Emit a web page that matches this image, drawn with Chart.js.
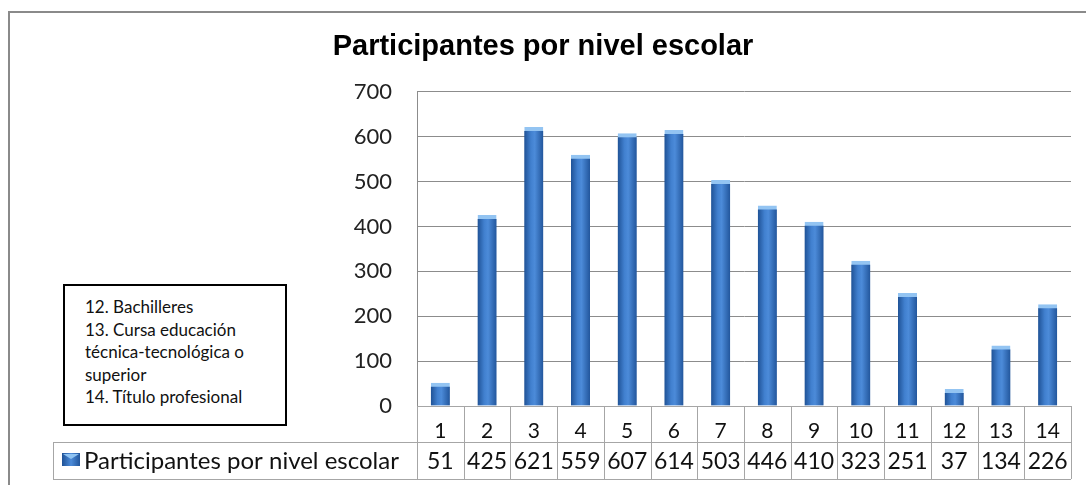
<!DOCTYPE html>
<html>
<head>
<meta charset="utf-8">
<script src="https://cdn.jsdelivr.net/npm/chart.js@4.4.1/dist/chart.umd.min.js"></script>
<style>
  html, body { margin: 0; padding: 0; background: #fff; }
  #wrap { position: relative; width: 1086px; height: 485px; overflow: hidden; }
  #frame { position: absolute; left: 8px; top: 11px; width: 1200px; height: 600px; border: 2px solid #8a8a8a; box-sizing: border-box; }
  #chart { position: absolute; left: 0; top: 0; }
  #nota {
    position: absolute; left: 63px; top: 284px; width: 224px; height: 142px;
    border: 2px solid #000; box-sizing: border-box; background: #fff;
    padding: 10px 0 0 20px; font-family: Lato, "Liberation Sans", sans-serif;
    font-size: 17px; line-height: 22.5px; color: #111;
  }
</style>
</head>
<body>
<div id="wrap">
  <div id="frame"></div>
  <canvas id="chart" width="1086" height="485"></canvas>
  <div id="nota">12. Bachilleres<br>13. Cursa educación<br>técnica-tecnológica o<br>superior<br>14. Título profesional</div>
</div>
<script>
// datos del gráfico
const niveles = ['1', '2', '3', '4', '5', '6', '7', '8', '9', '10', '11', '12', '13', '14'];
const participantes = [51, 425, 621, 559, 607, 614, 503, 446, 410, 323, 251, 37, 134, 226];
const serieNombre = 'Participantes por nivel escolar';
const tituloTexto = 'Participantes por nivel escolar';
const yTicks = [0, 100, 200, 300, 400, 500, 600, 700];

const lineaTabla = '#a6a6a6';

// degradado horizontal tipo Excel para cada barra
function barGradient(ctx, x, w) {
    const g = ctx.createLinearGradient(x - w / 2, 0, x + w / 2, 0);
    g.addColorStop(0, '#1f5296');
    g.addColorStop(0.35, '#4180cf');
    g.addColorStop(0.55, '#4c8bd9');
    g.addColorStop(1, '#22569c');
    return g;
}

// tabla de datos debajo del eje (fila de valores + leyenda)
const tablaDatos = {
    id: 'tablaDatos',
    afterDraw(chart) {
        const { ctx, chartArea } = chart;
        const xs = chart.scales.x;
        const top = chartArea.bottom;
        const mid = top + 36;
        const bot = top + 73;
        const legLeft = 53;
        const step = (chartArea.right - chartArea.left) / niveles.length;

        ctx.save();
        ctx.strokeStyle = lineaTabla;
        ctx.lineWidth = 1;
        ctx.beginPath();
        ctx.moveTo(legLeft, mid + 0.5); ctx.lineTo(chartArea.right, mid + 0.5);
        ctx.moveTo(legLeft, bot + 0.5); ctx.lineTo(chartArea.right, bot + 0.5);
        ctx.moveTo(legLeft + 0.5, mid); ctx.lineTo(legLeft + 0.5, bot);
        for (let i = 0; i <= niveles.length; i++) {
            const x = Math.round(chartArea.left + i * step) + 0.5;
            ctx.moveTo(x, top); ctx.lineTo(x, bot);
        }
        ctx.stroke();

        // valores
        ctx.fillStyle = '#111';
        ctx.font = '23px Lato, "Liberation Sans", sans-serif';
        ctx.textAlign = 'center';
        ctx.textBaseline = 'middle';
        participantes.forEach((v, i) => {
            ctx.fillText(String(v), xs.getPixelForValue(i), (mid + bot) / 2 + 1);
        });

        // leyenda
        const ix = 62, iy = 453, iw = 18, ih = 13;
        const g = ctx.createLinearGradient(ix, 0, ix + iw, 0);
        g.addColorStop(0, '#1f5296');
        g.addColorStop(0.5, '#4c8bd9');
        g.addColorStop(1, '#22569c');
        ctx.fillStyle = g;
        ctx.fillRect(ix, iy, iw, ih);
        ctx.fillStyle = '#8fc3f2';
        ctx.beginPath();
        ctx.moveTo(ix + 1, iy + 1); ctx.lineTo(ix + iw - 1, iy + 1); ctx.lineTo(ix + iw / 2, iy + 6);
        ctx.closePath();
        ctx.fill();

        ctx.fillStyle = '#111';
        ctx.textAlign = 'left';
        ctx.font = '24px Lato, "Liberation Sans", sans-serif';
        ctx.fillText(serieNombre, 84, (mid + bot) / 2 + 1);
        ctx.restore();
    }
};

new Chart(document.getElementById('chart'), {
    type: 'bar',
    data: {
        labels: niveles,
        datasets: [{
            label: serieNombre,
            data: participantes,
            barThickness: 19,
            backgroundColor: (c) => {
                const xs = c.chart.scales.x;
                if (!xs || c.dataIndex === undefined) return '#3a75c4';
                const px = xs.getPixelForValue(c.dataIndex);
                if (!Number.isFinite(px)) return '#3a75c4';
                return barGradient(c.chart.ctx, px, 19);
            },
            borderColor: '#93c4f2',
            borderWidth: { top: 4, left: 0, right: 0, bottom: 0 },
            borderSkipped: 'bottom'
        }]
    },
    options: {
        responsive: false,
        animation: false,
        layout: { padding: { left: 15, right: 15, top: 0, bottom: 0 } },
        plugins: {
            legend: { display: false },
            tooltip: { enabled: false },
            title: {
                display: true,
                text: tituloTexto,
                color: '#000',
                font: { family: '"Liberation Sans", Arial, sans-serif', size: 29, weight: 'bold' },
                padding: { top: 30, bottom: 27 }
            }
        },
        scales: {
            x: {
                grid: { display: false },
                border: { display: true, color: lineaTabla, width: 1 },
                ticks: {
                    color: '#111',
                    padding: 5,
                    font: { family: 'Lato, "Liberation Sans", sans-serif', size: 21 }
                },
                afterFit: (s) => { s.height = 79; }
            },
            y: {
                min: 0,
                max: 700,
                afterBuildTicks: (s) => { s.ticks = yTicks.map(v => ({ value: v })); },
                grid: { color: '#8c8c8c', drawTicks: false },
                border: { display: true, color: '#8c8c8c', width: 1 },
                ticks: {
                    color: '#222',
                    padding: 25,
                    font: { family: 'Lato, "Liberation Sans", sans-serif', size: 22 }
                },
                afterFit: (s) => { s.width = 402; }
            }
        }
    },
    plugins: [tablaDatos]
});
</script>
</body>
</html>
